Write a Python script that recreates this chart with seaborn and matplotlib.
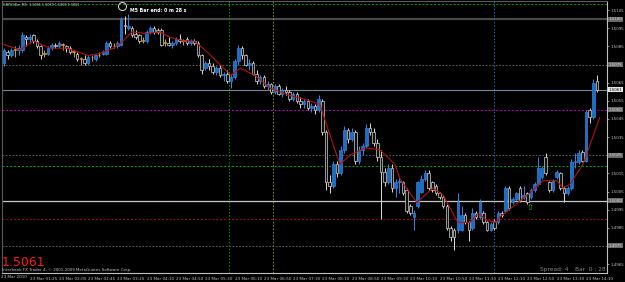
import matplotlib
matplotlib.use("Agg")
import matplotlib.pyplot as plt
import seaborn as sns
import pandas as pd
from matplotlib.patches import Ellipse

# ---------------- data (GBPUSDm M5, 23 Mar 2010) ----------------
opens = [1.5076,1.5082,1.5080,1.5083,1.5083,1.5083,1.5090,1.5089,1.5091,1.5088,
         1.5085,1.5081,1.5081,1.5084,1.5086,1.5085,1.5086,1.5085,1.5084,1.5082,
         1.5081,1.5078,1.5078,1.5076,1.5079,1.5078,1.5080,1.5081,1.5081,1.5087,
         1.5085,1.5085,1.5086,1.5097,1.5095,1.5095,1.5092,1.5091,1.5088,1.5088,
         1.5093,1.5095,1.5094,1.5094,1.5087,1.5087,1.5086,1.5087,1.5089,1.5088,
         1.5089,1.5087,1.5088,1.5087,1.5080,1.5073,1.5076,1.5074,1.5071,1.5073,
         1.5069,1.5070,1.5066,1.5068,1.5077,1.5084,1.5080,1.5075,1.5076,1.5070,
         1.5066,1.5068,1.5063,1.5064,1.5060,1.5063,1.5059,1.5061,1.5060,1.5056,
         1.5059,1.5055,1.5053,1.5055,1.5051,1.5052,1.5050,1.5055,1.5038,1.5010,
         1.5008,1.5020,1.5015,1.5028,1.5039,1.5034,1.5038,1.5022,1.5028,1.5030,
         1.5040,1.5038,1.5032,1.5024,1.5016,1.5010,1.5018,1.5007,1.5010,1.5010,
         1.5006,1.4997,1.4991,1.4997,1.5005,1.5012,1.5015,1.5010,1.5008,1.5004,
         1.5002,1.4997,1.4985,1.4984,1.4984,1.4984,1.4992,1.4988,1.4985,1.4993,
         1.4991,1.4993,1.4988,1.4984,1.4989,1.4988,1.4993,1.4994,1.5007,1.4999,
         1.5001,1.5007,1.5002,1.5004,1.5002,1.5006,1.5009,1.5013,1.5024,1.5010,
         1.5006,1.5013,1.5015,1.5007,1.5004,1.5007,1.5021,1.5021,1.5027,1.5022,
         1.5050,1.5046,1.5066]
highs = [1.5084,1.5083,1.5084,1.5085,1.5086,1.5093,1.5091,1.5092,1.5092,1.5089,
         1.5086,1.5083,1.5085,1.5087,1.5087,1.5088,1.5087,1.5086,1.5085,1.5083,
         1.5082,1.5079,1.5080,1.5080,1.5080,1.5081,1.5082,1.5083,1.5088,1.5088,
         1.5087,1.5088,1.5101,1.5102,1.5103,1.5096,1.5094,1.5092,1.5090,1.5094,
         1.5096,1.5096,1.5095,1.5095,1.5089,1.5090,1.5088,1.5090,1.5092,1.5089,
         1.5090,1.5089,1.5089,1.5088,1.5081,1.5077,1.5078,1.5076,1.5074,1.5075,
         1.5071,1.5072,1.5070,1.5078,1.5086,1.5085,1.5081,1.5078,1.5077,1.5072,
         1.5069,1.5069,1.5066,1.5065,1.5064,1.5064,1.5062,1.5063,1.5061,1.5060,
         1.5060,1.5057,1.5056,1.5056,1.5054,1.5053,1.5058,1.5056,1.5039,1.5014,
         1.5022,1.5022,1.5030,1.5041,1.5040,1.5040,1.5039,1.5030,1.5032,1.5042,
         1.5043,1.5040,1.5034,1.5028,1.5018,1.5020,1.5020,1.5012,1.5013,1.5011,
         1.5007,1.4998,1.4995,1.5011,1.5014,1.5017,1.5017,1.5011,1.5009,1.5005,
         1.5003,1.4998,1.4986,1.4985,1.5004,1.4997,1.4993,1.4989,1.4996,1.4994,
         1.5001,1.4994,1.4989,1.4988,1.4990,1.4994,1.4994,1.5008,1.5008,1.5002,
         1.5005,1.5008,1.5008,1.5005,1.5007,1.5010,1.5024,1.5019,1.5026,1.5011,
         1.5012,1.5017,1.5016,1.5008,1.5008,1.5023,1.5026,1.5028,1.5028,1.5050,
         1.5051,1.5067,1.5069]
lows = [1.5074,1.5078,1.5079,1.5079,1.5080,1.5082,1.5085,1.5087,1.5087,1.5084,
        1.5078,1.5079,1.5080,1.5083,1.5084,1.5084,1.5083,1.5082,1.5081,1.5079,
        1.5077,1.5075,1.5075,1.5075,1.5077,1.5077,1.5079,1.5080,1.5080,1.5084,
        1.5084,1.5084,1.5085,1.5092,1.5094,1.5090,1.5089,1.5087,1.5087,1.5087,
        1.5092,1.5092,1.5092,1.5085,1.5085,1.5085,1.5084,1.5086,1.5087,1.5086,
        1.5086,1.5086,1.5086,1.5079,1.5070,1.5072,1.5072,1.5070,1.5069,1.5068,
        1.5066,1.5065,1.5062,1.5067,1.5075,1.5078,1.5074,1.5072,1.5069,1.5064,
        1.5064,1.5062,1.5061,1.5059,1.5059,1.5058,1.5057,1.5058,1.5055,1.5055,
        1.5054,1.5051,1.5051,1.5050,1.5049,1.5048,1.5049,1.5036,1.5006,1.5004,
        1.5007,1.5013,1.5014,1.5026,1.5032,1.5033,1.5020,1.5020,1.5025,1.5029,
        1.5036,1.5030,1.5022,1.4990,1.5008,1.5009,1.5005,1.5002,1.5004,1.5003,
        1.4993,1.4992,1.4984,1.4996,1.5004,1.5011,1.5006,1.5005,1.5003,1.5001,
        1.4996,1.4984,1.4978,1.4973,1.4982,1.4983,1.4987,1.4978,1.4984,1.4990,
        1.4990,1.4987,1.4983,1.4983,1.4984,1.4987,1.4991,1.4993,1.4995,1.4998,
        1.5000,1.4999,1.5001,1.4998,1.5001,1.5005,1.5008,1.5012,1.5014,1.5005,
        1.5005,1.5012,1.5006,1.4999,1.5003,1.5006,1.5018,1.5020,1.5021,1.5021,
        1.5043,1.5045,1.5060]
closes = [1.5083,1.5080,1.5083,1.5083,1.5084,1.5091,1.5089,1.5090,1.5088,1.5085,
          1.5080,1.5081,1.5084,1.5086,1.5085,1.5087,1.5086,1.5084,1.5082,1.5082,
          1.5078,1.5078,1.5076,1.5079,1.5079,1.5080,1.5080,1.5082,1.5087,1.5085,
          1.5085,1.5087,1.5100,1.5096,1.5096,1.5091,1.5090,1.5088,1.5088,1.5093,
          1.5095,1.5093,1.5093,1.5086,1.5087,1.5086,1.5087,1.5089,1.5088,1.5088,
          1.5087,1.5088,1.5087,1.5080,1.5072,1.5076,1.5074,1.5071,1.5073,1.5069,
          1.5070,1.5066,1.5068,1.5077,1.5084,1.5080,1.5075,1.5076,1.5070,1.5066,
          1.5068,1.5063,1.5064,1.5060,1.5063,1.5059,1.5061,1.5060,1.5056,1.5059,
          1.5055,1.5053,1.5055,1.5051,1.5052,1.5050,1.5056,1.5038,1.5010,1.5008,
          1.5020,1.5015,1.5028,1.5039,1.5034,1.5038,1.5022,1.5028,1.5030,1.5040,
          1.5038,1.5032,1.5024,1.5016,1.5010,1.5018,1.5007,1.5010,1.5011,1.5004,
          1.4994,1.4993,1.4993,1.5010,1.5012,1.5015,1.5007,1.5006,1.5004,1.5002,
          1.4997,1.4985,1.4980,1.4980,1.4999,1.4992,1.4988,1.4984,1.4993,1.4991,
          1.4999,1.4988,1.4984,1.4987,1.4985,1.4993,1.4992,1.5007,1.4996,1.5001,
          1.5004,1.5000,1.5003,1.4999,1.5006,1.5009,1.5018,1.5018,1.5015,1.5006,
          1.5011,1.5016,1.5007,1.5004,1.5007,1.5021,1.5022,1.5026,1.5022,1.5049,
          1.5046,1.5065,1.5061]

# moving-average line (bar index, price)
ma_idx = [0, 4.4, 8, 12.6, 17.2, 23, 26, 30, 32.5, 35, 39, 42.6, 45.4, 49, 52, 56,
          62, 64.5, 68.6, 72.7, 78, 83.6, 86.3, 90.4, 91.8, 94.5, 98.6, 102.7, 106.8,
          108.2, 112.8, 117.2, 120, 124, 127.3, 129.5, 132, 134.7, 135.5, 143, 147.3,
          151, 152.7, 154.6, 158.2, 162.8]
ma_val = [1.5086, 1.5083, 1.5088, 1.5084, 1.5084, 1.5080, 1.5081, 1.5084, 1.5088, 1.5093,
          1.5092, 1.5093, 1.5090, 1.5088, 1.5088, 1.5081, 1.5069, 1.5073, 1.5069, 1.5062,
          1.5058, 1.5055, 1.5053, 1.5028, 1.5020, 1.5025, 1.5029, 1.5028, 1.5020, 1.5012,
          1.4999, 1.5007, 1.5003, 1.4988, 1.4988, 1.4993, 1.4989, 1.4988, 1.4991, 1.5003,
          1.5011, 1.5011, 1.5007, 1.5009, 1.5020, 1.5046]

time_labels = ["23 Mar 01:25", "23 Mar 02:05", "23 Mar 02:45", "23 Mar 03:25",
               "23 Mar 04:10", "23 Mar 04:50", "23 Mar 05:30", "23 Mar 06:10",
               "23 Mar 06:50", "23 Mar 07:30", "23 Mar 08:10", "23 Mar 08:50",
               "23 Mar 09:30", "23 Mar 10:10", "23 Mar 10:50", "23 Mar 11:30",
               "23 Mar 12:10", "23 Mar 12:50", "23 Mar 13:30", "23 Mar 14:10"]
price_ticks = [1.5105, 1.5095, 1.5085, 1.5065, 1.5055, 1.5045, 1.5035,
               1.5015, 1.5005, 1.4995, 1.4985, 1.4965]
level_labels = [1.5100, 1.5075, 1.5050, 1.5025, 1.5000, 1.4975]
current_price = 1.5061

# ---------------- style ----------------
sns.set_theme(style="dark")
plt.rcParams["font.family"] = ["DejaVu Sans"]
BG = "#000000"
fig = plt.figure(figsize=(6.25, 2.82), dpi=100, facecolor=BG)
ax = fig.add_axes([2/625, 9/282, 605/625, 272/282], facecolor=BG)

df = pd.DataFrame({"o": opens, "h": highs, "l": lows, "c": closes})
df["i"] = range(len(df))

# horizontal levels
ax.axhline(1.51083, color="#00a000", lw=0.7, ls=(0, (2, 2)))
ax.axhline(1.5100, color="#4a4a4a", lw=1.6)
ax.axhline(1.5075, color="#6e6e6e", lw=0.6, ls=(0, (2, 2)))
ax.axhline(current_price, color="#7a8796", lw=0.8)
ax.axhline(1.5050, color="#c000c0", lw=0.7, ls=(0, (2, 2)))
ax.axhline(1.5025, color="#6e6e6e", lw=0.6, ls=(0, (2, 2)))
ax.axhline(1.5019, color="#00b000", lw=0.7, ls=(0, (2, 2)))
ax.axhline(1.5000, color="#c8c8c8", lw=0.9)
ax.axhline(1.4990, color="#a01010", lw=0.7, ls=(0, (2, 2)))
ax.axhline(1.4975, color="#6e6e6e", lw=0.6, ls=(0, (2, 2)))
# vertical lines
ax.axvline(61.5, color="#00a000", lw=0.6, ls=(0, (2, 2)))
ax.axvline(73.5, color="#a0a000", lw=0.6, ls=(0, (2, 2)))
ax.axvline(133.9, color="#2070d0", lw=0.6, ls=(0, (2, 2)))

# candles
for _, r in df.iterrows():
    body = abs(r.c - r.o)
    if body < 0.00005:
        edge, fill = "#d09a20", "#d09a20"
    elif r.c > r.o:
        edge, fill = "#2f86e0", "#1f6cc4"
    else:
        edge, fill = "#d4d4d4", "#101010"
    ax.vlines(r.i, r.l, r.h, color=edge, lw=0.75, zorder=3)
    ax.bar(r.i, max(body, 0.00004), bottom=min(r.o, r.c), width=0.7,
           color=fill, edgecolor=edge, linewidth=0.5, zorder=4)

sns.lineplot(x=ma_idx, y=ma_val, ax=ax, color="#b01414", lw=0.8, zorder=5)

ax.set_xlim(-0.55, 164.75)
ax.set_ylim(1.49601, 1.51100)

# axes & ticks
for s in ["left", "top"]:
    ax.spines[s].set_color("#5a5a5a")
    ax.spines[s].set_linewidth(0.8)
for s in ["right", "bottom"]:
    ax.spines[s].set_color("#c0c0c0")
    ax.spines[s].set_linewidth(0.8)
ax.grid(False)
ax.yaxis.tick_right()
ax.set_yticks(price_ticks)
ax.set_yticklabels([f"{p:.4f}" for p in price_ticks])
ax.tick_params(axis="y", colors="#c0c0c0", labelsize=2.9, length=1.5, width=0.5, pad=1)
xt = [7 + 8 * k for k in range(len(time_labels))]
ax.set_xticks(xt)
ax.set_xticklabels(time_labels)
ax.tick_params(axis="x", colors="#c0c0c0", labelsize=3.0, length=2, width=0.5, pad=1)
for lab in ax.get_xticklabels():
    lab.set_ha("left")
ax.set_xlabel("")
ax.set_ylabel("")

# highlighted level labels on price scale
for p in level_labels:
    ax.text(1.003, p, f"{p:.4f}", transform=ax.get_yaxis_transform(), fontsize=2.9,
            color="#d8d8d8", va="center", ha="left",
            bbox=dict(boxstyle="square,pad=0.12", fc="#6a6a6a", ec="none"))
ax.text(1.003, current_price, f"{current_price:.4f}", transform=ax.get_yaxis_transform(),
        fontsize=2.9, color="#000000", va="center", ha="left",
        bbox=dict(boxstyle="square,pad=0.12", fc="#e8e8e8", ec="none"))

# texts
def ftext(x, y, s, **kw):
    fig.text(x / 625, 1 - y / 282, s, **kw)

ftext(3, 5, "GBPUSDm,M5  1.5066 1.5069 1.5060 1.5061", fontsize=2.4, color="#d0d0d0", va="center")
ftext(1, 277.5, "23 Mar 2010", fontsize=3.0, color="#c0c0c0", va="center")
fig.add_artist(Ellipse((122.5 / 625, 1 - 6.5 / 282), 8 / 625, 8 / 282,
                       transform=fig.transFigure, fill=False, ec="#e0e0e0", lw=0.7))
ftext(130, 10, "M5 Bar end: 0 m 28 s", fontsize=3.4, color="#ffffff", weight="bold", va="center")
ftext(2, 263, "1.5061", fontsize=9, color="#ff1a1a", va="center")
ftext(2.5, 270, "Interbank FX Trader 4, \u00a9 2001-2009 MetaQuotes Software Corp.",
      fontsize=2.9, color="#c0c0c0", va="center")
ftext(540, 269.5, "Spread: 4", fontsize=4.2, color="#8a8a8a", va="center")
ftext(575, 269.5, "Bar  0 : 28", fontsize=4.2, color="#8a8a8a", va="center")
ax.text(143.7, 1.4996, "\u21e7", fontsize=6, color="#10c010", ha="center", va="center", zorder=6)

fig.savefig("out.png", dpi=100, facecolor=BG)
